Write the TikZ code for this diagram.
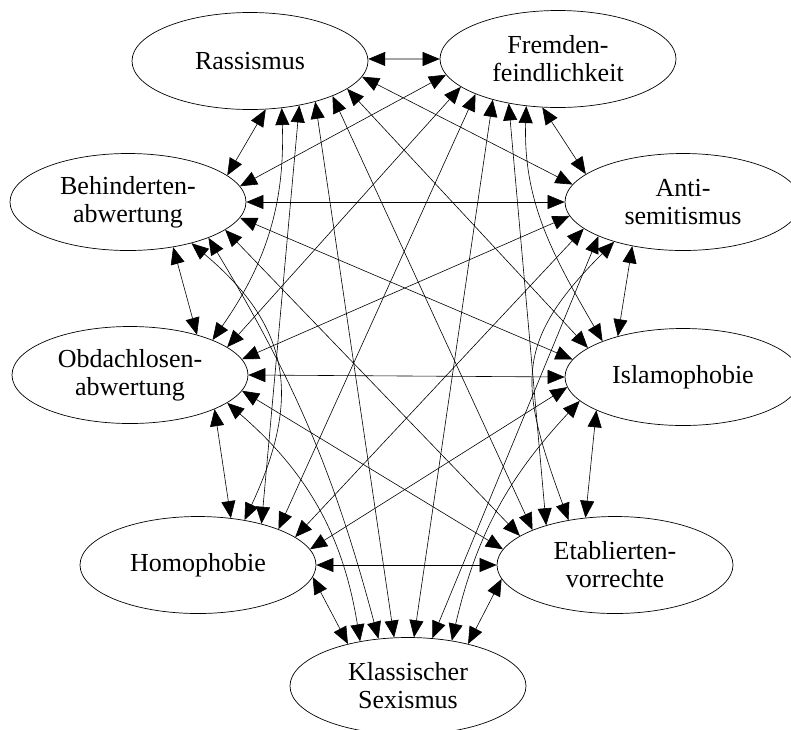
\documentclass[tikz,border=0pt]{standalone}
\usepackage{fontspec}
\setmainfont{Liberation Serif}
\usepackage{tikz}
\usetikzlibrary{shapes.geometric}
\usetikzlibrary{arrows.meta}

\begin{document}
\begin{tikzpicture}[x=1pt, y=1pt,
	vorurteil/.style={ellipse, draw, line width=0.7pt, minimum width=236pt, minimum height=97pt, inner sep=0pt, align=center, font=\fontsize{26}{28}\selectfont},
	spitze/.tip={Triangle[length=17pt, width=14pt]},
	pfeil/.style={line width=0.6pt, spitze-spitze}]
				\useasboundingbox (0,0) rectangle (791,-729);
				\node[vorurteil] (ras) at (250,-61) {Rassismus};
				\node[vorurteil] (frem) at (558,-59) {Fremden-\\feindlichkeit};
				\node[vorurteil] (beh) at (128,-202) {Behinderten-\\abwertung};
				\node[vorurteil] (anti) at (683,-202) {Anti-\\semitismus};
				\node[vorurteil] (obd) at (130,-375) {Obdachlosen-\\abwertung};
				\node[vorurteil] (isl) at (683,-377) {Islamophobie};
				\node[vorurteil] (hom) at (198,-565) {Homophobie};
				\node[vorurteil] (etab) at (615,-565) {Etablierten-\\vorrechte};
				\node[vorurteil] (sex) at (408,-686) {Klassischer\\Sexismus};
				\draw[pfeil] (ras.1) -- (frem.180);\draw[pfeil] (ras.-8) -- (anti.171);\draw[pfeil] (ras.-16) -- (isl.163);\draw[pfeil] (ras.-23) -- (etab.157);
				\draw[pfeil] (ras.-32) -- (sex.106);\draw[pfeil] (ras.-42) -- (hom.33);\draw[pfeil] (ras.-56) to[out=-88, in=55] (obd.23);\draw[pfeil] (ras.-72) -- (beh.15);
				\draw[pfeil] (frem.188) -- (beh.8);\draw[pfeil] (frem.196) -- (obd.16);\draw[pfeil] (frem.203) -- (hom.24);\draw[pfeil] (frem.212) -- (sex.83);
				\draw[pfeil] (frem.222) -- (etab.150);\draw[pfeil] (frem.236) to[out=-92, in=120] (isl.156);\draw[pfeil] (frem.252) -- (anti.164);
				\draw[pfeil] (beh.0) -- (anti.180);\draw[pfeil] (beh.-8) -- (isl.171);\draw[pfeil] (beh.-16) -- (etab.163);
				\draw[pfeil] (beh.-24) to[bend left=8] (sex.122);\draw[pfeil] (beh.-33) to[out=-40, in=65, looseness=1.2] (hom.44);\draw[pfeil] (beh.-45) -- (obd.31);
				\draw[pfeil] (obd.8) -- (anti.187);\draw[pfeil] (obd.0) -- (isl.180);\draw[pfeil] (obd.-8) -- (etab.172);
				\draw[pfeil] (obd.-16) to[bend left=20] (sex.137);\draw[pfeil] (obd.-22) -- (hom.55);
				\draw[pfeil] (anti.195) -- (hom.16);\draw[pfeil] (anti.202) -- (sex.63);\draw[pfeil] (anti.210) to[out=-135, in=110, looseness=1.3] (etab.136);\draw[pfeil] (anti.221) -- (isl.148);
				\draw[pfeil] (isl.185) -- (hom.8);\draw[pfeil] (isl.193) to[bend right=15] (sex.46);\draw[pfeil] (isl.201) -- (etab.122);
				\draw[pfeil] (hom.0) -- (etab.180);\draw[pfeil] (hom.-6) -- (sex.145);
				\draw[pfeil] (etab.187) -- (sex.35);
			\end{tikzpicture}
\end{document}
